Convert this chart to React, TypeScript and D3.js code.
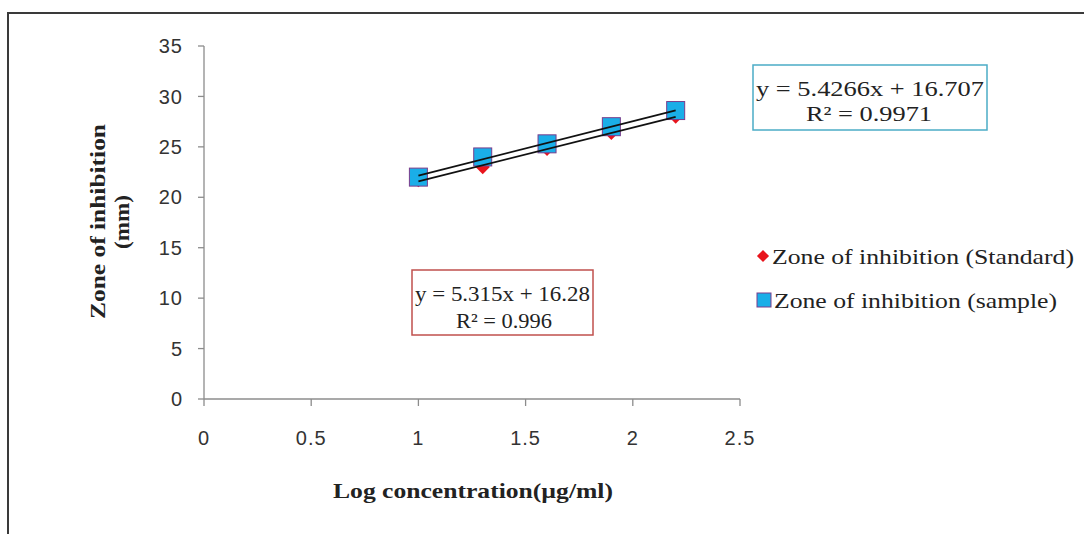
import React from 'react';
import * as d3 from 'd3';

// Log concentration values (x) and zone of inhibition readings (mm)
const logConc = [1.0, 1.3, 1.6, 1.9, 2.2];
const standard = [21.7, 23.0, 24.8, 26.4, 28.0];
const sample = [22.0, 24.0, 25.3, 27.0, 28.6];
const xTicks = [0, 0.5, 1, 1.5, 2, 2.5];
const yTicks = [0, 5, 10, 15, 20, 25, 30, 35];

const width = 1084;
const height = 534;
const margin = { top: 46, right: 344, bottom: 135, left: 204 };

const serif = '"Liberation Serif", "Times New Roman", serif';
const sans = '"Liberation Sans", Arial, sans-serif';

const fit = (xs: number[], ys: number[]) => {
  const mx = d3.mean(xs)!;
  const my = d3.mean(ys)!;
  const num = d3.sum(xs, (x, i) => (x - mx) * (ys[i] - my));
  const den = d3.sum(xs, x => (x - mx) ** 2);
  const slope = num / den;
  return { slope, intercept: my - slope * mx };
};

const App = () => {
  const x = d3.scaleLinear().domain([0, 2.5]).range([margin.left, width - margin.right]);
  const y = d3.scaleLinear().domain([0, 35]).range([height - margin.bottom, margin.top]);

  const trend = (ys: number[]) => {
    const { slope, intercept } = fit(logConc, ys);
    const x0 = d3.min(logConc)!;
    const x1 = d3.max(logConc)!;
    return d3.line<number>().x(d => x(d)).y(d => y(slope * d + intercept))([x0, x1]) || '';
  };

  const diamond = d3.symbol().type(d3.symbolDiamond2).size(130)() || '';
  const axisColor = '#8c8c8c';
  const y0 = y(0);
  const stretch = 'spacingAndGlyphs';

  return (
    <div style={{ position: 'absolute', left: 0, top: 0 }}>
      <svg width={width} height={height} style={{ display: 'block', background: '#fff' }}>
        {/* outer frame */}
        <path d={`M8,${height} L8,13 L${width},13`} fill="none" stroke="#3a3a3a" strokeWidth={2} />

        {/* y axis */}
        <line x1={x(0)} x2={x(0)} y1={y(35)} y2={y0} stroke={axisColor} strokeWidth={1.3} />
        {yTicks.map(t => (
          <g key={t}>
            <line x1={x(0) - 6} x2={x(0)} y1={y(t)} y2={y(t)} stroke={axisColor} strokeWidth={1.3} />
            <text x={x(0) - 21} y={y(t)} dy="0.36em" textAnchor="end" fontFamily={sans} fontSize={20} letterSpacing={1} fill="#333">
              {t}
            </text>
          </g>
        ))}

        {/* x axis */}
        <line x1={x(0)} x2={x(2.5)} y1={y0} y2={y0} stroke={axisColor} strokeWidth={1.3} />
        {xTicks.map(t => (
          <g key={t}>
            <line x1={x(t)} x2={x(t)} y1={y0} y2={y0 + 7} stroke={axisColor} strokeWidth={1.3} />
            <text x={x(t)} y={y0 + 39} dy="0.36em" textAnchor="middle" fontFamily={sans} fontSize={20} letterSpacing={1} fill="#333">
              {t}
            </text>
          </g>
        ))}

        {/* axis titles */}
        <text x={333} y={490} dy="0.35em" textLength={280} lengthAdjust={stretch} fontFamily={serif} fontSize={22} fontWeight="bold" fill="#222">
          Log concentration(µg/ml)
        </text>
        <g transform="translate(109,222) rotate(-90)">
          <text x={-97} y={-12} dy="0.35em" textLength={195} lengthAdjust={stretch} fontFamily={serif} fontSize={22} fontWeight="bold" fill="#222">
            Zone of inhibition
          </text>
          <text x={-27} y={12} dy="0.35em" textLength={54} lengthAdjust={stretch} fontFamily={serif} fontSize={22} fontWeight="bold" fill="#222">
            (mm)
          </text>
        </g>

        {/* markers */}
        {logConc.map((c, i) => (
          <path key={'s' + i} d={diamond} transform={`translate(${x(c)},${y(standard[i])})`} fill="#e8141c" />
        ))}
        {logConc.map((c, i) => (
          <rect key={'b' + i} x={x(c) - 9} y={y(sample[i]) - 9} width={18} height={18} fill="#1aaee8" stroke="#7a3c8c" strokeWidth={1} />
        ))}

        {/* trend lines */}
        <path d={trend(standard)} fill="none" stroke="#111" strokeWidth={1.8} />
        <path d={trend(sample)} fill="none" stroke="#111" strokeWidth={1.8} />

        {/* equation boxes */}
        <rect x={753} y={65} width={234} height={65} fill="#fff" stroke="#4bacc6" strokeWidth={1.5} />
        <text x={756} y={88} dy="0.35em" textLength={228} lengthAdjust={stretch} fontFamily={serif} fontSize={22} fill="#222">
          y = 5.4266x + 16.707
        </text>
        <text x={806} y={113} dy="0.35em" textLength={126} lengthAdjust={stretch} fontFamily={serif} fontSize={22} fill="#222">
          R² = 0.9971
        </text>

        <rect x={412} y={270} width={181} height={65} fill="#fff" stroke="#c0504d" strokeWidth={1.5} />
        <text x={415} y={293} dy="0.35em" textLength={175} lengthAdjust={stretch} fontFamily={serif} fontSize={22} fill="#222">
          y = 5.315x + 16.28
        </text>
        <text x={456} y={320} dy="0.35em" textLength={96} lengthAdjust={stretch} fontFamily={serif} fontSize={22} fill="#222">
          R² = 0.996
        </text>

        {/* legend */}
        <path d={diamond} transform="translate(763,256) scale(0.85)" fill="#e8141c" />
        <text x={772} y={256} dy="0.35em" textLength={302} lengthAdjust={stretch} fontFamily={serif} fontSize={22} fill="#222">
          Zone of inhibition (Standard)
        </text>
        <rect x={757} y={293} width={14} height={14} fill="#1aaee8" stroke="#7a3c8c" strokeWidth={1} />
        <text x={774} y={300} dy="0.35em" textLength={283} lengthAdjust={stretch} fontFamily={serif} fontSize={22} fill="#222">
          Zone of inhibition (sample)
        </text>
      </svg>
    </div>
  );
};

export default App;
